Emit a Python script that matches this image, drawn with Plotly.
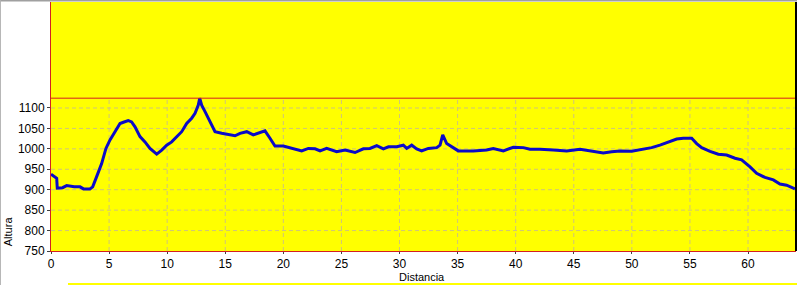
import plotly.graph_objects as go

dist = [0, 0.49, 0.54, 1.0, 1.35, 2.0, 2.5, 2.8, 3.35, 3.59, 3.93, 4.36, 4.73, 5.08, 5.51, 5.94,
        6.23, 6.65, 6.94, 7.23, 7.66, 8.09, 8.52, 8.95, 9.1, 9.53, 9.96, 10.39, 10.82, 11.25,
        11.68, 12.11, 12.4, 12.68, 12.8, 12.97, 13.26, 13.69, 14.12, 14.69, 15.41, 15.84,
        16.27, 16.85, 17.41, 17.85, 18.42, 18.85, 19.28, 20.0, 20.86, 21.58, 22.15, 22.73,
        23.16, 23.73, 24.59, 25.31, 26.17, 26.89, 27.46, 28.04, 28.61, 29.05, 29.76, 30.33,
        30.62, 31.05, 31.48, 31.91, 32.48, 33.2, 33.49, 33.72, 34.06, 34.49, 35.06, 36.35,
        37.5, 38.07, 38.94, 39.8, 40.66, 41.23, 42.09, 43.24, 44.39, 45.54, 46.54, 47.54,
        48.26, 48.98, 49.99, 50.99, 51.7, 52.42, 53.14, 53.86, 54.43, 55.15, 55.58, 56.01,
        56.73, 57.44, 58.16, 58.88, 59.45, 60.17, 60.74, 61.46, 62.18, 62.75, 63.32, 64.04]

elev = [938, 928, 904, 905, 910, 907, 907, 902, 902, 907, 932, 964, 1001, 1022, 1042, 1062,
        1065, 1069, 1066, 1054, 1030, 1017, 1001, 989, 987, 997, 1009, 1017, 1030, 1042,
        1062, 1075, 1087, 1107, 1124, 1107, 1091, 1066, 1042, 1038, 1034, 1032,
        1038, 1042, 1034, 1038, 1044, 1026, 1007, 1007, 1000, 995, 1001, 1000,
        995, 1001, 993, 997, 991, 1000, 1001, 1008, 1000, 1005, 1005, 1009,
        1001, 1009, 1000, 995, 1001, 1003, 1009, 1034, 1013, 1005, 995, 995,
        997, 1001, 995, 1004, 1003, 999, 999, 997, 995, 999, 994, 990,
        993, 995, 994, 999, 1003, 1009, 1017, 1024, 1026, 1026, 1013, 1003,
        994, 987, 985, 977, 973, 956, 940, 930, 924, 914, 911, 902]

x_ticks = [0, 5, 10, 15, 20, 25, 30, 35, 40, 45, 50, 55, 60]
y_ticks = [750, 800, 850, 900, 950, 1000, 1050, 1100]

X_MAX = 64.13
Y_MIN = 750
Y_MAX = 1359.4
ymax_data = max(elev)

GRID = "#cfc47a"
RED = "#d42020"

fig = go.Figure()
fig.add_trace(go.Scatter(x=dist, y=elev, mode="lines",
                         line=dict(color="#0a0ac8", width=3), hoverinfo="skip"))

shapes = []
for xv in x_ticks[1:]:
    shapes.append(dict(type="line", xref="x", yref="y", x0=xv, x1=xv, y0=Y_MIN, y1=ymax_data,
                       line=dict(color=GRID, width=1, dash="4px,3px"), layer="below"))
for yv in y_ticks[1:]:
    shapes.append(dict(type="line", xref="x", yref="y", x0=0, x1=X_MAX, y0=yv, y1=yv,
                       line=dict(color=GRID, width=1, dash="4px,3px"), layer="below"))
# max altitude line
shapes.append(dict(type="line", xref="x", yref="y", x0=0, x1=X_MAX, y0=ymax_data, y1=ymax_data,
                   line=dict(color=RED, width=1)))
# right black border
shapes.append(dict(type="line", xref="paper", yref="paper", x0=1, x1=1, y0=0, y1=1,
                   line=dict(color="black", width=2)))
# window frame lines (top / left)
shapes.append(dict(type="line", xref="paper", yref="paper", x0=-0.0685, x1=1.01, y0=1.006, y1=1.006,
                   line=dict(color="#a0a0a0", width=2)))
shapes.append(dict(type="line", xref="paper", yref="paper", x0=-0.0679, x1=-0.0679, y0=-0.14, y1=1.01,
                   line=dict(color="#b0b0b0", width=1)))
# thin yellow strip at the bottom
shapes.append(dict(type="rect", xref="paper", yref="paper", x0=0.0228, x1=1.01, y0=-0.1285, y1=-0.15,
                   fillcolor="#ffff00", line=dict(width=0)))

fig.update_layout(
    width=797, height=285,
    margin=dict(l=51, r=1, t=2, b=34),
    paper_bgcolor="white",
    plot_bgcolor="#ffff00",
    showlegend=False,
    font=dict(family="Liberation Sans, Arial, sans-serif", size=12, color="black"),
    shapes=shapes,
    xaxis=dict(range=[0, X_MAX], tickvals=x_ticks, ticktext=[str(v) for v in x_ticks],
               showgrid=False, zeroline=False, showline=True, linecolor=RED, linewidth=1,
               ticks="outside", ticklen=2, tickcolor="#404040",
               tickfont=dict(size=12)),
    yaxis=dict(range=[Y_MIN, Y_MAX], tickvals=y_ticks, ticktext=[str(v) for v in y_ticks],
               showgrid=False, zeroline=False, showline=True, linecolor=RED, linewidth=1,
               ticks="outside", ticklen=3, tickcolor="#404040",
               tickfont=dict(size=12)),
    annotations=[
        dict(text="Altura", xref="paper", yref="paper", x=-0.0575, y=0.08,
             textangle=-90, showarrow=False, font=dict(size=11), xanchor="center", yanchor="middle"),
        dict(text="Distancia", xref="paper", yref="paper", x=0.498, y=-0.104,
             showarrow=False, font=dict(size=11), xanchor="center", yanchor="middle"),
    ],
)

fig.write_html("out.html")
